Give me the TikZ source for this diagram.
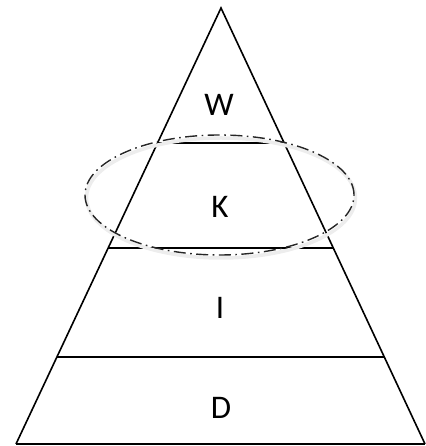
\documentclass[tikz,border=0pt]{standalone}
\usepackage{fontspec}
\setmainfont{Carlito}
\begin{document}
\begin{tikzpicture}[x=1pt,y=1pt,
  edge/.style={line width=1.6pt,line join=miter},
  level/.style={line width=1.6pt},
  lbl/.style={font=\fontsize{33}{40}\selectfont,inner sep=0pt,anchor=center},
  oval/.style={line width=1.4pt,draw=black!85,dash pattern=on 12pt off 4.5pt on 1.6pt off 4.5pt},
  ovalshadow/.style={line width=3.5pt,draw=black!7}]
\useasboundingbox (0,0) rectangle (425,446);
% pyramid
\coordinate (apex) at (221,438);
\coordinate (bl) at (16,2);
\coordinate (br) at (425,2);
\coordinate (l1) at (157.5,303);
\coordinate (r1) at (284.5,303);
\coordinate (l2) at (108.2,198);
\coordinate (r2) at (333.5,198);
\coordinate (l3) at (56.9,89);
\coordinate (r3) at (384.5,89);
\draw[edge] (bl) -- (apex) -- (br);
\draw[edge] (bl) -- (br);
\draw[level] (l1) -- (r1);
\draw[level] (l2) -- (r2);
\draw[level] (l3) -- (r3);
% ellipse with faint shadow
\coordinate (ec) at (219.5,251);
\draw[ovalshadow] ([xshift=1.5pt,yshift=-3pt]ec) ellipse [x radius=134.5, y radius=60];
\draw[oval] (ec) ellipse [x radius=134.5, y radius=60];
% labels
\node[lbl] (w) at (219,341) {W};
\node[lbl] (k) at (220,239) {K};
\node[lbl] (i) at (220,138) {I};
\node[lbl] (d) at (221,38) {D};
\end{tikzpicture}
\end{document}
